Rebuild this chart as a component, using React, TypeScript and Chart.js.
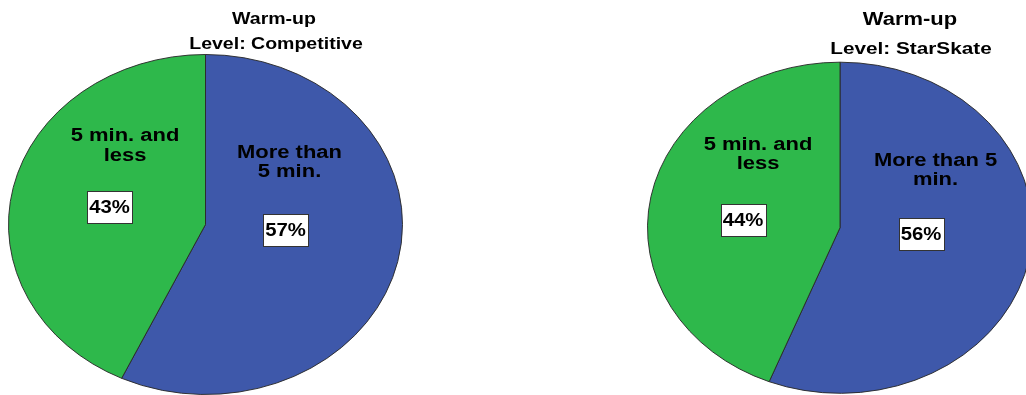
import React, { useEffect, useRef } from "react";
import { Chart, registerables } from "chart.js";

Chart.register(...registerables);

// ---- data ----
const categories = ["More than 5 min.", "5 min. and less"];
const competitiveValues = [57, 43];
const starSkateValues = [56, 44];
const chartTitles = ["Warm-up", "Warm-up"];
const levelLabels = ["Level: Competitive", "Level: StarSkate"];
const competitiveLabelLines = [["More than", "5 min."], ["5 min. and", "less"]];
const starSkateLabelLines = [["More than 5", "min."], ["5 min. and", "less"]];
const sliceColors = ["#3E58AA", "#2EB84B"];

// ---- layout (styling only) ----
const FONT = '"Liberation Sans", Arial, sans-serif';

type Layout = {
  left: number;
  width: number;
  height: number;
  padding: { left: number; right: number; top: number; bottom: number };
  sy: number;
  titleX: number;
  titleY: number;
  titleSize: number;
  subX: number;
  subY: number;
  subSize: number;
  textSx: number;
  labelSize: number;
  lineGap: number;
  labelPos: { dx: number; dy: number }[];
  boxPos: { dx: number; dy: number }[];
};

const layouts: Layout[] = [
  {
    left: 0,
    width: 430,
    height: 460,
    padding: { left: 8, right: 27, top: 27, bottom: 38 },
    sy: 170 / 197,
    titleX: 274,
    titleY: 23.5,
    titleSize: 16,
    subX: 276,
    subY: 48.5,
    subSize: 16,
    textSx: 1.22,
    labelSize: 18,
    lineGap: 19.5,
    labelPos: [
      { dx: 84, dy: -67 },
      { dx: -80.5, dy: -83.3 },
    ],
    boxPos: [
      { dx: 80, dy: 5 },
      { dx: -96, dy: -17.5 },
    ],
  },
  {
    left: 620,
    width: 440,
    height: 460,
    padding: { left: 27, right: 27, top: 34.5, bottom: 39 },
    sy: 166 / 193,
    titleX: 290,
    titleY: 25,
    titleSize: 18,
    subX: 291,
    subY: 54,
    subSize: 17,
    textSx: 1.22,
    labelSize: 18,
    lineGap: 19,
    labelPos: [
      { dx: 95.5, dy: -62 },
      { dx: -82, dy: -78 },
    ],
    boxPos: [
      { dx: 81, dy: 6 },
      { dx: -97, dy: -8 },
    ],
  },
];

const chartValues = [competitiveValues, starSkateValues];
const chartLabelLines = [competitiveLabelLines, starSkateLabelLines];

function drawStretched(
  ctx: CanvasRenderingContext2D,
  text: string,
  x: number,
  y: number,
  size: number,
  sx: number,
  baseline: CanvasTextBaseline = "alphabetic"
) {
  ctx.save();
  ctx.font = `bold ${size}px ${FONT}`;
  ctx.textAlign = "center";
  ctx.textBaseline = baseline;
  ctx.fillStyle = "#000";
  ctx.translate(x, y);
  ctx.scale(sx, 1);
  ctx.fillText(text, 0, 0);
  ctx.restore();
}

function makePlugin(idx: number) {
  const lay = layouts[idx];
  return {
    id: "ellipsePie" + idx,
    beforeDatasetsDraw(chart: any) {
      const arc = chart.getDatasetMeta(0).data[0];
      const ctx = chart.ctx;
      ctx.save();
      ctx.translate(arc.x, arc.y);
      ctx.scale(1, lay.sy);
      ctx.translate(-arc.x, -arc.y);
    },
    afterDatasetsDraw(chart: any) {
      chart.ctx.restore();
    },
    afterDraw(chart: any) {
      const ctx: CanvasRenderingContext2D = chart.ctx;
      const meta = chart.getDatasetMeta(0);
      const arc = meta.data[0];
      const cx = arc.x;
      const cy = arc.y;
      drawStretched(ctx, chartTitles[idx], lay.titleX, lay.titleY, lay.titleSize, lay.textSx);
      drawStretched(ctx, levelLabels[idx], lay.subX, lay.subY, lay.subSize, lay.textSx);
      const values = chartValues[idx];
      const lines = chartLabelLines[idx];
      values.forEach((v, i) => {
        const lp = lay.labelPos[i];
        lines[i].forEach((ln, k) => {
          drawStretched(ctx, ln, cx + lp.dx, cy + lp.dy + k * lay.lineGap, lay.labelSize, lay.textSx);
        });
        const bp = lay.boxPos[i];
        const bw = 45;
        const bh = 32;
        const bx = Math.round(cx + bp.dx - bw / 2) + 0.5;
        const by = Math.round(cy + bp.dy - bh / 2) + 0.5;
        ctx.save();
        ctx.fillStyle = "#ffffff";
        ctx.strokeStyle = "#333333";
        ctx.lineWidth = 1;
        ctx.fillRect(bx, by, bw, bh);
        ctx.strokeRect(bx, by, bw, bh);
        ctx.restore();
        drawStretched(ctx, `${v}%`, cx + bp.dx, cy + bp.dy + 1, 19, 1.07, "middle");
      });
    },
  };
}

function PieCanvas({ idx }: { idx: number }) {
  const ref = useRef<HTMLCanvasElement>(null);
  const lay = layouts[idx];
  useEffect(() => {
    if (!ref.current) return;
    const chart = new Chart(ref.current, {
      type: "pie",
      data: {
        labels: categories,
        datasets: [
          {
            data: chartValues[idx],
            backgroundColor: sliceColors,
            borderColor: "#2a2a2a",
            borderWidth: 1,
            hoverOffset: 0,
            offset: 0,
          },
        ],
      },
      options: {
        responsive: false,
        animation: false,
        devicePixelRatio: 1,
        events: [],
        layout: { padding: lay.padding },
        plugins: {
          legend: { display: false },
          tooltip: { enabled: false },
          title: { display: false },
        },
      },
      plugins: [makePlugin(idx)],
    });
    return () => chart.destroy();
  }, [idx]);
  return (
    <canvas
      ref={ref}
      width={lay.width}
      height={lay.height}
      style={{
        position: "absolute",
        left: lay.left,
        top: 0,
        width: lay.width,
        height: lay.height,
      }}
    />
  );
}

export default function App() {
  return (
    <div
      style={{
        position: "absolute",
        left: 0,
        top: 0,
        width: 1026,
        height: 395,
        overflow: "hidden",
        background: "#ffffff",
      }}
    >
      <PieCanvas idx={0} />
      <PieCanvas idx={1} />
    </div>
  );
}
